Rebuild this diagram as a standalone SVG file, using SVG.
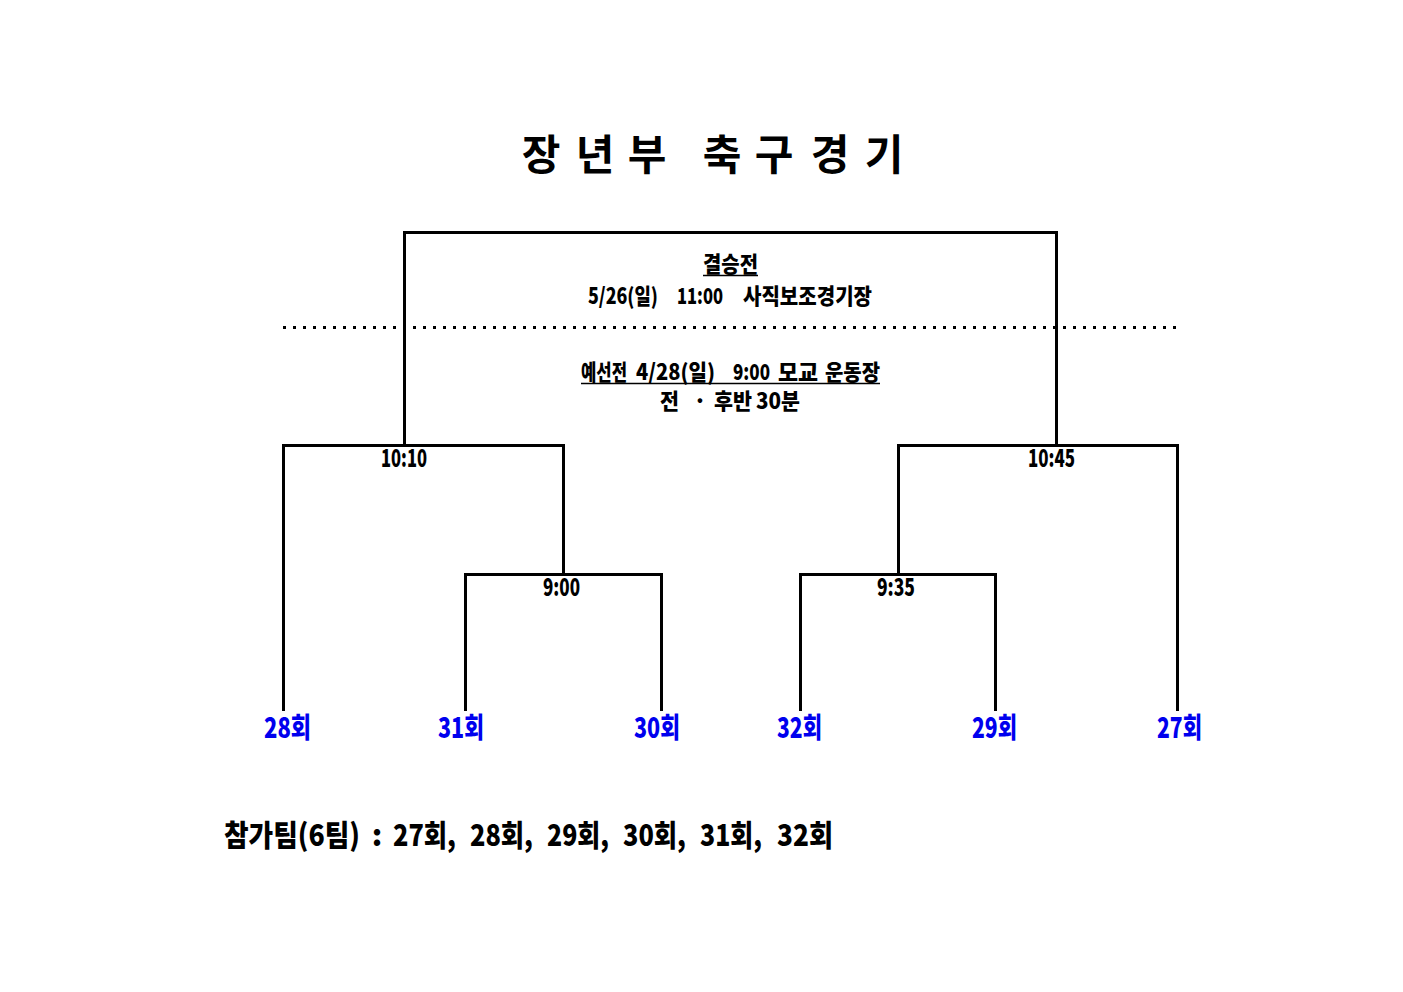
<svg xmlns="http://www.w3.org/2000/svg" width="1403" height="992" viewBox="0 0 1403 992">
<style>
.k{font-family:"Noto Sans CJK KR","Noto Sans",sans-serif;font-weight:900;fill:#000}
.t{font-size:42px;text-anchor:middle;font-weight:700}
.m{font-size:22px}
.tm{font-size:24px}
.team{font-size:28px;fill:#0000ee}
.b{font-size:30px}
.ln{stroke:#000;stroke-width:3;fill:none}
.ul{stroke:#000;stroke-width:1.5}
</style>
<rect width="1403" height="992" fill="#fff"/>
<g id="title" class="k t">
<text x="541" y="170">장</text><text x="595" y="170">년</text><text x="647" y="170">부</text>
<text x="722" y="170">축</text><text x="774" y="170">구</text><text x="830" y="170">경</text><text x="884" y="170">기</text>
</g>
<g id="connectors">
<path class="ln" d="M404.5,445.5 V232.5 H1056.5 V445.5"/>
<path class="ln" d="M283.5,711 V445.5 H563.5 V574.5"/>
<path class="ln" d="M465.5,711 V574.5 H661.5 V711"/>
<path class="ln" d="M1177.5,711 V445.5 H898.5 V574.5"/>
<path class="ln" d="M800.5,711 V574.5 H995.5 V711"/>
<line x1="283" y1="327.5" x2="1180" y2="327.5" stroke="#000" stroke-width="3" stroke-dasharray="3 7"/>
</g>
<g id="final-info" class="k m">
<text x="703" y="272" textLength="55" lengthAdjust="spacingAndGlyphs">결승전</text>
<line class="ul" x1="703" y1="275.5" x2="758" y2="275.5"/>
<text x="588" y="304" textLength="70" lengthAdjust="spacingAndGlyphs">5/26(일)</text>
<text x="677" y="304" textLength="46" lengthAdjust="spacingAndGlyphs">11:00</text>
<text x="743" y="304" textLength="129" lengthAdjust="spacingAndGlyphs">사직보조경기장</text>
</g>
<g id="prelim-info" class="k m">
<text x="581" y="380" textLength="46" lengthAdjust="spacingAndGlyphs">예선전</text>
<text x="636" y="380" textLength="79" lengthAdjust="spacingAndGlyphs">4/28(일)</text>
<text x="733" y="380" textLength="37" lengthAdjust="spacingAndGlyphs">9:00</text>
<text x="778" y="380" textLength="40" lengthAdjust="spacingAndGlyphs">모교</text>
<text x="825" y="380" textLength="55" lengthAdjust="spacingAndGlyphs">운동장</text>
<line class="ul" x1="581" y1="383.5" x2="880" y2="383.5"/>
<text x="660" y="409" textLength="19" lengthAdjust="spacingAndGlyphs">전</text>
<text x="700" y="409" text-anchor="middle">·</text>
<text x="714" y="409" textLength="38" lengthAdjust="spacingAndGlyphs">후반</text>
<text x="756" y="409" textLength="44" lengthAdjust="spacingAndGlyphs">30분</text>
</g>
<g id="match-1010" class="k tm"><text x="381" y="467" textLength="46" lengthAdjust="spacingAndGlyphs">10:10</text></g>
<g id="match-900" class="k tm"><text x="543" y="596" textLength="37" lengthAdjust="spacingAndGlyphs">9:00</text></g>
<g id="match-1045" class="k tm"><text x="1028" y="467" textLength="47" lengthAdjust="spacingAndGlyphs">10:45</text></g>
<g id="match-935" class="k tm"><text x="877" y="596" textLength="38" lengthAdjust="spacingAndGlyphs">9:35</text></g>
<g id="team-28" class="k team"><text x="264" y="738" textLength="47" lengthAdjust="spacingAndGlyphs">28회</text></g>
<g id="team-31" class="k team"><text x="438" y="738" textLength="46" lengthAdjust="spacingAndGlyphs">31회</text></g>
<g id="team-30" class="k team"><text x="634" y="738" textLength="46" lengthAdjust="spacingAndGlyphs">30회</text></g>
<g id="team-32" class="k team"><text x="777" y="738" textLength="45" lengthAdjust="spacingAndGlyphs">32회</text></g>
<g id="team-29" class="k team"><text x="972" y="738" textLength="45" lengthAdjust="spacingAndGlyphs">29회</text></g>
<g id="team-27" class="k team"><text x="1157" y="738" textLength="45" lengthAdjust="spacingAndGlyphs">27회</text></g>
<g id="participants" class="k b">
<text transform="translate(224 846) scale(0.85 1)" textLength="160" lengthAdjust="spacingAndGlyphs">참가팀(6팀)</text>
<text x="377" y="846" text-anchor="middle">:</text>
<text x="393" y="846" textLength="63" lengthAdjust="spacingAndGlyphs">27회,</text>
<text x="470" y="846" textLength="63" lengthAdjust="spacingAndGlyphs">28회,</text>
<text x="547" y="846" textLength="62" lengthAdjust="spacingAndGlyphs">29회,</text>
<text x="623" y="846" textLength="63" lengthAdjust="spacingAndGlyphs">30회,</text>
<text x="700" y="846" textLength="62" lengthAdjust="spacingAndGlyphs">31회,</text>
<text x="777" y="846" textLength="56" lengthAdjust="spacingAndGlyphs">32회</text>
</g>
</svg>
